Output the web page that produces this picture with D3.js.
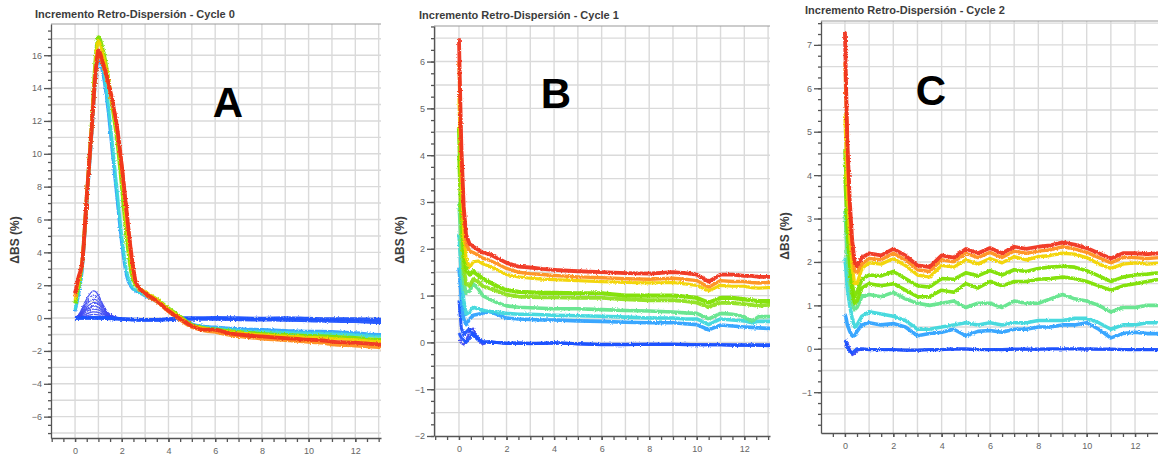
<!DOCTYPE html>
<html>
<head>
<meta charset="utf-8">
<script src="https://cdn.jsdelivr.net/npm/d3@7"></script>
<style>
  body { margin: 0; background: #fff; }
  svg { display: block; font-family: "Liberation Sans", Arial, sans-serif; }
  .grid line { stroke: #dadada; stroke-width: 1.4; }
  .axis path, .axis line { stroke: #555; stroke-width: 1.3; }
  .axis text { fill: #666; font-size: 9px; }
  .frame { stroke: #999; stroke-width: 1.2; }
  .title { font-weight: bold; font-size: 11px; fill: #3c3c3c; }
  .ylab { font-weight: bold; font-size: 12px; fill: #3c3c3c; }
  .letter { font-weight: bold; font-size: 42px; fill: #000; }
</style>
</head>
<body>
<svg id="chart" width="1158" height="458"></svg>
<script>
// ---------- Cycle 0 (A) ----------
const xsA = [0, 0.15, 0.3, 0.5, 0.7, 0.9, 1.0, 1.2, 1.4, 1.6, 1.8, 2.0, 2.2, 2.4, 2.6, 2.8, 3.0, 3.5, 4.0, 4.5,
  5.0, 5.5, 6.0, 6.5, 7.0, 8.0, 9.0, 10.0, 10.5, 11.0, 12.0, 13.0, 13.2];
const aLightBlue = [0.4, 1.4, 2.8, 6.8, 10.8, 14.8, 15.7, 14.8, 12.8, 10.0, 7.2, 4.5, 2.6, 1.9, 1.65, 1.5, 1.35, 1.0, 0.5, 0.05,
  -0.35, -0.5, -0.55, -0.6, -0.65, -0.7, -0.75, -0.8, -0.8, -0.82, -0.9, -1.0, -1.0];
const aCyan = [0.5, 1.6, 3.0, 7.0, 11.0, 15.1, 16.0, 15.2, 13.3, 10.6, 7.8, 5.0, 2.9, 2.0, 1.7, 1.55, 1.4, 1.05, 0.55, 0.1,
  -0.4, -0.55, -0.62, -0.68, -0.75, -0.82, -0.88, -0.92, -0.93, -0.95, -1.02, -1.1, -1.1];
const aGreen = [0.9, 2.0, 3.3, 7.4, 11.6, 16.2, 17.1, 16.3, 14.8, 12.8, 10.8, 8.0, 5.0, 2.8, 2.0, 1.75, 1.55, 1.15, 0.6, 0.1,
  -0.42, -0.6, -0.68, -0.78, -0.85, -0.95, -1.02, -1.08, -1.1, -1.12, -1.2, -1.3, -1.3];
const aYellow = [1.1, 2.2, 3.4, 7.5, 11.6, 16.0, 16.9, 16.0, 14.8, 13.0, 11.2, 8.8, 5.8, 3.3, 2.1, 1.8, 1.6, 1.15, 0.55, 0.05,
  -0.45, -0.62, -0.72, -0.82, -0.9, -1.02, -1.1, -1.18, -1.2, -1.25, -1.32, -1.42, -1.42];
const aOrange = [1.3, 2.4, 3.2, 7.3, 11.2, 15.2, 16.1, 15.4, 14.4, 13.1, 11.5, 9.2, 6.5, 3.9, 2.15, 1.7, 1.45, 1.0, 0.4, -0.1,
  -0.55, -0.75, -0.85, -1.0, -1.1, -1.25, -1.35, -1.45, -1.5, -1.6, -1.68, -1.78, -1.8];
const aRed = [1.5, 2.5, 3.3, 7.4, 11.3, 15.3, 16.3, 15.5, 14.5, 13.2, 11.6, 9.3, 6.6, 4.0, 2.2, 1.75, 1.5, 1.05, 0.45, -0.05,
  -0.48, -0.7, -0.7, -0.9, -1.0, -1.12, -1.22, -1.32, -1.35, -1.43, -1.5, -1.6, -1.62];

const xsABump = [0, 0.2, 0.4, 0.6, 0.8, 1.0, 1.2, 1.4, 1.7, 2.0];
const aBump1 = [0, 0.3, 0.9, 1.4, 1.65, 1.4, 0.8, 0.35, 0.08, 0];
const aBump2 = [0, 0.25, 0.75, 1.2, 1.4, 1.2, 0.7, 0.3, 0.06, 0];
const aBump3 = [0, 0.2, 0.6, 1.0, 1.15, 1.0, 0.6, 0.25, 0.05, 0];
const aBump4 = [0, 0.15, 0.5, 0.8, 0.95, 0.85, 0.5, 0.2, 0.04, 0];
const aBump5 = [0, 0.12, 0.4, 0.62, 0.75, 0.65, 0.4, 0.15, 0.03, 0];
const aBump6 = [0, 0.1, 0.3, 0.48, 0.55, 0.5, 0.3, 0.12, 0.02, 0];
const aBump7 = [0, 0.08, 0.2, 0.32, 0.38, 0.35, 0.22, 0.1, 0.02, 0];
const aBump8 = [0, 0.05, 0.12, 0.18, 0.22, 0.2, 0.12, 0.05, 0.01, 0];

const xsABase = [0, 0.5, 1, 1.5, 2, 2.5, 3, 3.5, 4, 4.5, 5, 6, 7, 8, 9, 10, 11, 12, 13, 13.2];
const aBase1 = [0, 0.02, 0.02, 0.0, -0.05, -0.08, -0.1, -0.1, -0.06, 0.0, 0.0, 0.02, 0.0, -0.02, 0.0, -0.03, -0.05, -0.05, -0.08, -0.08];
const aBase2 = [0, 0, 0, -0.02, -0.06, -0.1, -0.12, -0.12, -0.08, -0.05, -0.05, -0.06, -0.08, -0.1, -0.12, -0.15, -0.18, -0.2, -0.25, -0.25];

// ---------- Cycle 1 (B) ----------
const xsB = [0, 0.05, 0.1, 0.2, 0.3, 0.45, 0.6, 0.8, 1.0, 1.3, 1.6, 2.0, 2.5, 3.0, 3.5, 4.0, 5.0, 6.0, 7.0, 8.0,
  9.0, 9.5, 10.0, 10.5, 11.0, 11.5, 12.0, 12.3, 12.6, 13.0, 13.2];
const bRed = [6.5, 5.3, 4.2, 2.9, 2.3, 2.1, 2.05, 1.98, 1.92, 1.88, 1.8, 1.7, 1.62, 1.6, 1.57, 1.55, 1.52, 1.5, 1.48, 1.47,
  1.5, 1.48, 1.45, 1.3, 1.45, 1.45, 1.42, 1.42, 1.4, 1.4, 1.4];
const bOrange = [6.0, 4.9, 3.9, 2.7, 2.1, 1.95, 1.92, 1.86, 1.8, 1.75, 1.68, 1.58, 1.5, 1.47, 1.45, 1.43, 1.4, 1.38, 1.36, 1.35,
  1.37, 1.35, 1.32, 1.18, 1.32, 1.3, 1.3, 1.28, 1.27, 1.28, 1.28];
const bYellow = [5.2, 4.3, 3.4, 2.3, 1.8, 1.6, 1.72, 1.74, 1.68, 1.62, 1.55, 1.45, 1.4, 1.37, 1.35, 1.34, 1.32, 1.3, 1.28, 1.27,
  1.28, 1.25, 1.22, 1.1, 1.22, 1.2, 1.2, 1.17, 1.16, 1.17, 1.17];
const bGreen = [4.6, 3.8, 3.0, 2.0, 1.55, 1.45, 1.52, 1.44, 1.36, 1.28, 1.2, 1.12, 1.08, 1.07, 1.06, 1.06, 1.05, 1.05, 1.0, 1.0,
  1.0, 0.98, 0.95, 0.85, 0.95, 0.95, 0.92, 0.9, 0.88, 0.88, 0.88];
const bGreen2 = [4.0, 3.3, 2.5, 1.6, 1.25, 1.2, 1.35, 1.3, 1.2, 1.15, 1.1, 1.02, 0.98, 0.97, 0.96, 0.96, 0.95, 0.95, 0.92, 0.9,
  0.9, 0.88, 0.85, 0.75, 0.85, 0.84, 0.82, 0.8, 0.78, 0.8, 0.8];
const bLightGreen = [3.0, 2.5, 1.9, 1.3, 1.05, 1.1, 1.25, 1.15, 1.0, 0.92, 0.85, 0.78, 0.75, 0.74, 0.73, 0.72, 0.72, 0.7, 0.68, 0.67,
  0.65, 0.63, 0.62, 0.5, 0.62, 0.6, 0.55, 0.45, 0.55, 0.55, 0.55];
const bCyan = [2.3, 1.9, 1.4, 0.9, 0.6, 0.65, 0.75, 0.72, 0.68, 0.66, 0.65, 0.62, 0.6, 0.6, 0.59, 0.58, 0.57, 0.56, 0.54, 0.52,
  0.52, 0.5, 0.5, 0.38, 0.5, 0.48, 0.46, 0.42, 0.45, 0.45, 0.45];
const bLightBlue = [1.6, 1.3, 0.9, 0.5, 0.38, 0.5, 0.58, 0.6, 0.62, 0.66, 0.6, 0.52, 0.5, 0.49, 0.48, 0.48, 0.46, 0.45, 0.43, 0.42,
  0.42, 0.4, 0.38, 0.27, 0.37, 0.35, 0.33, 0.32, 0.31, 0.3, 0.3];
const bBlue1 = [0.9, 0.6, 0.3, 0.15, 0.22, 0.3, 0.15, 0.05, 0.02, 0.0, 0.0, -0.02, -0.01, -0.02, -0.02, -0.01, -0.03, -0.05, -0.05, -0.04,
  -0.04, -0.05, -0.05, -0.05, -0.05, -0.06, -0.06, -0.06, -0.06, -0.07, -0.07];
const bBlue2 = [0.2, 0.15, 0.1, 0.05, 0.0, 0.1, 0.2, 0.1, 0.0, 0.02, 0.0, -0.02, -0.02, -0.03, -0.02, -0.01, -0.03, -0.04, -0.04, -0.04,
  -0.04, -0.04, -0.05, -0.05, -0.05, -0.05, -0.05, -0.05, -0.05, -0.05, -0.05];
const bBlue3 = [0.0, 0.05, -0.02, -0.05, 0.05, 0.25, 0.3, 0.05, -0.05, 0.02, 0.0, -0.03, -0.02, -0.03, -0.03, -0.02, -0.04, -0.05, -0.05, -0.05,
  -0.05, -0.06, -0.06, -0.06, -0.06, -0.07, -0.07, -0.07, -0.07, -0.08, -0.08];

// ---------- Cycle 2 (C) ----------
const xsC = [0, 0.05, 0.1, 0.2, 0.3, 0.4, 0.5, 0.7, 1.0, 1.5, 2.0, 2.5, 3.0, 3.5, 4.0, 4.5, 5.0, 5.5, 6.0, 6.5,
  7.0, 7.5, 8.0, 8.5, 9.0, 9.5, 10.0, 10.5, 11.0, 11.5, 12.0, 12.5, 13.0];
const cRed = [7.3, 6.0, 4.8, 3.4, 2.5, 2.0, 1.9, 2.1, 2.2, 2.15, 2.3, 2.15, 1.92, 1.88, 2.15, 2.1, 2.3, 2.2, 2.32, 2.2,
  2.35, 2.3, 2.35, 2.38, 2.45, 2.4, 2.32, 2.2, 2.08, 2.2, 2.2, 2.18, 2.2];
const cOrange = [6.6, 5.6, 4.5, 3.1, 2.3, 1.8, 1.75, 1.95, 2.08, 2.05, 2.2, 2.05, 1.82, 1.78, 2.05, 2.0, 2.2, 2.1, 2.22, 2.1,
  2.25, 2.2, 2.25, 2.28, 2.35, 2.3, 2.22, 2.1, 1.98, 2.1, 2.1, 2.08, 2.1];
const cYellow = [5.4, 4.6, 3.7, 2.6, 1.9, 1.5, 1.5, 1.85, 1.98, 1.95, 2.08, 1.92, 1.7, 1.65, 1.92, 1.88, 2.05, 1.95, 2.08, 1.98,
  2.12, 2.05, 2.12, 2.15, 2.2, 2.18, 2.1, 1.95, 1.85, 1.95, 1.98, 1.95, 1.97];
const cGreen1 = [4.6, 3.9, 3.1, 2.2, 1.5, 1.2, 1.3, 1.6, 1.7, 1.68, 1.78, 1.62, 1.45, 1.42, 1.62, 1.6, 1.75, 1.68, 1.8, 1.7,
  1.82, 1.78, 1.85, 1.88, 1.9, 1.88, 1.8, 1.68, 1.55, 1.65, 1.7, 1.72, 1.75];
const cGreen2 = [4.0, 3.4, 2.7, 1.9, 1.3, 1.05, 1.1, 1.4, 1.5, 1.45, 1.5, 1.35, 1.2, 1.2, 1.35, 1.3, 1.5, 1.4, 1.55, 1.45,
  1.55, 1.55, 1.6, 1.62, 1.65, 1.62, 1.55, 1.45, 1.35, 1.45, 1.5, 1.55, 1.6];
const cGreen3 = [3.2, 2.7, 2.1, 1.5, 1.05, 0.9, 0.95, 1.2, 1.25, 1.2, 1.3, 1.15, 1.05, 1.0, 1.05, 1.1, 0.95, 1.05, 1.05, 0.95,
  1.1, 1.05, 1.05, 1.15, 1.25, 1.15, 1.1, 1.0, 0.85, 0.95, 0.95, 1.0, 1.0];
const cCyan = [2.1, 1.8, 1.4, 1.0, 0.7, 0.5, 0.55, 0.75, 0.85, 0.8, 0.75, 0.65, 0.45, 0.45, 0.5, 0.55, 0.6, 0.55, 0.6, 0.55,
  0.6, 0.6, 0.65, 0.65, 0.65, 0.7, 0.7, 0.6, 0.45, 0.55, 0.55, 0.6, 0.6];
const cLightBlue = [0.8, 0.7, 0.55, 0.4, 0.3, 0.3, 0.4, 0.55, 0.6, 0.55, 0.58, 0.5, 0.3, 0.35, 0.38, 0.45, 0.3, 0.4, 0.42, 0.38,
  0.45, 0.45, 0.5, 0.5, 0.55, 0.55, 0.6, 0.45, 0.25, 0.35, 0.38, 0.35, 0.35];
const cBlue1 = [0.2, 0.15, 0.05, -0.05, -0.1, -0.05, 0.0, 0.0, -0.02, -0.02, -0.02, -0.03, -0.03, -0.02, -0.02, 0.0, 0.0, -0.02, -0.02, -0.02,
  -0.01, -0.01, -0.01, 0.0, 0.0, 0.0, 0.0, -0.01, -0.01, -0.02, -0.02, -0.02, -0.02];
const cBlue2 = [0.05, 0.1, 0.15, 0.0, -0.15, -0.12, -0.05, -0.02, -0.03, -0.03, -0.03, -0.04, -0.04, -0.03, -0.03, -0.02, -0.02, -0.03, -0.03, -0.03,
  -0.02, -0.02, -0.02, -0.01, -0.01, -0.01, -0.02, -0.02, -0.02, -0.03, -0.03, -0.03, -0.03];

const titles = ['Incremento Retro-Dispersión - Cycle 0', 'Incremento Retro-Dispersión - Cycle 1', 'Incremento Retro-Dispersión - Cycle 2'];
const letters = ['A', 'B', 'C'];
const yLabel = 'ΔBS (%)';

const COL = {
  violet: '#3c46f2', blue: '#1d52ff', lightBlue: '#2ea2ff', cyan: '#3fd8dc', lightGreen: '#62e58c',
  green: '#7ee000', green2: '#8fe21a', yellow: '#f2d400', orange: '#ff9020', red: '#f0331e'
};

const svg = d3.select('#chart');

// noisy / blurry look of the instrument traces
const defs = svg.append('defs');
const jit = defs.append('filter').attr('id', 'jit')
  .attr('filterUnits', 'userSpaceOnUse').attr('x', 0).attr('y', 0).attr('width', 1158).attr('height', 458);
jit.append('feTurbulence').attr('type', 'fractalNoise').attr('baseFrequency', 0.7).attr('numOctaves', 2).attr('seed', 3).attr('result', 'n');
jit.append('feDisplacementMap').attr('in', 'SourceGraphic').attr('in2', 'n').attr('scale', 2.8)
  .attr('xChannelSelector', 'R').attr('yChannelSelector', 'G').attr('result', 'd');
jit.append('feGaussianBlur').attr('in', 'd').attr('stdDeviation', 0.5);

function drawPanel(p, i) {
  const x = d3.scaleLinear().domain(p.xDomain).range([p.left, p.right]);
  const y = d3.scaleLinear().domain(p.yDomain).range([p.bottom, p.top]);
  const g = svg.append('g').attr('class', 'panel');

  // grid
  const grid = g.append('g').attr('class', 'grid');
  const vx = d3.range(Math.ceil(p.xDomain[0]), p.xDomain[1], 1).filter((d) => x(d) > p.left + 1);
  const hy = d3.range(Math.ceil(p.yDomain[0] / p.gridStep) * p.gridStep, p.yDomain[1], p.gridStep)
    .filter((d) => y(d) < p.bottom - 1);
  grid.selectAll('line.v').data(vx).enter().append('line').attr('class', 'v')
    .attr('x1', (d) => x(d)).attr('x2', (d) => x(d)).attr('y1', p.top).attr('y2', p.bottom);
  grid.selectAll('line.h').data(hy).enter().append('line').attr('class', 'h')
    .attr('x1', p.left).attr('x2', p.right).attr('y1', (d) => y(d)).attr('y2', (d) => y(d));

  // top frame
  g.append('line').attr('class', 'frame')
    .attr('x1', p.left).attr('x2', p.right).attr('y1', p.top).attr('y2', p.top);

  // traces
  const clipId = 'clip' + i;
  defs.append('clipPath').attr('id', clipId).append('rect')
    .attr('x', p.left).attr('y', p.top).attr('width', p.right - p.left).attr('height', p.bottom - p.top);
  const traces = g.append('g').attr('clip-path', `url(#${clipId})`).append('g').attr('filter', 'url(#jit)');
  const line = d3.line().curve(p.curve);
  p.series.forEach((s) => {
    traces.append('path')
      .attr('d', line(s.xs.map((xv, k) => [x(xv), y(s.values[k])])))
      .attr('fill', 'none')
      .attr('stroke', s.color)
      .attr('stroke-width', s.width)
      .attr('stroke-opacity', s.opacity || 0.95)
      .attr('stroke-linejoin', 'round');
  });

  // y axis
  const yMinor = d3.range(Math.ceil(p.yDomain[0] / p.yMinor) * p.yMinor, p.yDomain[1], p.yMinor);
  const yMajor = d3.range(Math.ceil(p.yDomain[0] / p.yLabelStep) * p.yLabelStep, p.yDomain[1], p.yLabelStep);
  g.append('g').attr('class', 'axis')
    .attr('transform', `translate(${p.left},0)`)
    .call(d3.axisLeft(y).tickValues(yMinor).tickSize(3).tickSizeOuter(0).tickFormat(''));
  g.append('g').attr('class', 'axis')
    .attr('transform', `translate(${p.left},0)`)
    .call(d3.axisLeft(y).tickValues(yMajor).tickSize(7).tickSizeOuter(0).tickPadding(2).tickFormat(d3.format('d')))
    .call((a) => a.select('.domain').remove());

  // x axis
  const xMinor = d3.range(Math.ceil(p.xDomain[0] / 0.5) * 0.5, p.xDomain[1], 0.5);
  const xMajor = d3.range(0, p.xDomain[1], 2);
  g.append('g').attr('class', 'axis')
    .attr('transform', `translate(0,${p.bottom})`)
    .call(d3.axisBottom(x).tickValues(xMinor).tickSize(4).tickSizeOuter(0).tickFormat(''));
  g.append('g').attr('class', 'axis')
    .attr('transform', `translate(0,${p.bottom})`)
    .call(d3.axisBottom(x).tickValues(xMajor).tickSize(4).tickPadding(6).tickFormat(d3.format('d')))
    .call((a) => a.select('.domain').remove());

  // texts
  g.append('text').attr('class', 'title').attr('x', p.titleX).attr('y', p.titleY).text(titles[i]);
  g.append('text').attr('class', 'ylab').attr('text-anchor', 'middle')
    .attr('transform', `translate(${p.yLabX},${p.yLabY}) rotate(-90)`).text(yLabel);
  g.append('text').attr('class', 'letter').attr('text-anchor', 'middle')
    .attr('x', p.letterX).attr('y', p.letterY).text(letters[i]);
}

const bump = (v) => ({ xs: xsABump, values: v, color: COL.violet, width: 1.3, opacity: 0.9 });

const panels = [
  {
    left: 51, right: 381, top: 24, bottom: 438,
    xDomain: [-1.03, 13.1], yDomain: [-7.3, 17.9], curve: d3.curveMonotoneX,
    gridStep: 1, yMinor: 0.5, yLabelStep: 2,
    titleX: 35, titleY: 18, yLabX: 19, yLabY: 240, letterX: 228, letterY: 117,
    series: [
      bump(aBump8), bump(aBump7), bump(aBump6), bump(aBump5), bump(aBump4), bump(aBump3), bump(aBump2), bump(aBump1),
      { xs: xsABase, values: aBase2, color: COL.blue, width: 3.5 },
      { xs: xsABase, values: aBase1, color: COL.blue, width: 3.5 },
      { xs: xsA, values: aLightBlue, color: COL.lightBlue, width: 3 },
      { xs: xsA, values: aCyan, color: COL.cyan, width: 3 },
      { xs: xsA, values: aGreen, color: COL.green, width: 3.6 },
      { xs: xsA, values: aYellow, color: COL.yellow, width: 3 },
      { xs: xsA, values: aOrange, color: COL.orange, width: 3.6 },
      { xs: xsA, values: aRed, color: COL.red, width: 3.8 }
    ]
  },
  {
    left: 434, right: 770, top: 26, bottom: 436,
    xDomain: [-1.05, 13.08], yDomain: [-2, 6.76], curve: d3.curveLinear,
    gridStep: 0.5, yMinor: 0.25, yLabelStep: 1,
    titleX: 419, titleY: 19, yLabX: 404, yLabY: 240, letterX: 556, letterY: 108,
    series: [
      { xs: xsB, values: bBlue3, color: COL.violet, width: 1.8 },
      { xs: xsB, values: bBlue2, color: COL.blue, width: 3 },
      { xs: xsB, values: bBlue1, color: COL.blue, width: 3 },
      { xs: xsB, values: bLightBlue, color: COL.lightBlue, width: 3.6 },
      { xs: xsB, values: bCyan, color: COL.cyan, width: 3.6 },
      { xs: xsB, values: bLightGreen, color: COL.lightGreen, width: 3.6 },
      { xs: xsB, values: bGreen2, color: COL.green2, width: 3.8 },
      { xs: xsB, values: bGreen, color: COL.green, width: 4.2 },
      { xs: xsB, values: bYellow, color: COL.yellow, width: 3.2 },
      { xs: xsB, values: bOrange, color: COL.orange, width: 3.4 },
      { xs: xsB, values: bRed, color: COL.red, width: 3.8 }
    ]
  },
  {
    left: 821, right: 1158, top: 21, bottom: 433,
    xDomain: [-0.99, 12.95], yDomain: [-1.94, 7.55], curve: d3.curveLinear,
    gridStep: 0.5, yMinor: 0.25, yLabelStep: 1,
    titleX: 805, titleY: 14, yLabX: 789, yLabY: 236, letterX: 931, letterY: 105,
    series: [
      { xs: xsC, values: cBlue2, color: COL.violet, width: 1.8 },
      { xs: xsC, values: cBlue1, color: COL.blue, width: 3.2 },
      { xs: xsC, values: cLightBlue, color: COL.lightBlue, width: 3.6 },
      { xs: xsC, values: cCyan, color: COL.cyan, width: 3.6 },
      { xs: xsC, values: cGreen3, color: COL.lightGreen, width: 3.6 },
      { xs: xsC, values: cGreen2, color: COL.green, width: 3.6 },
      { xs: xsC, values: cGreen1, color: COL.green, width: 3.6 },
      { xs: xsC, values: cYellow, color: COL.yellow, width: 3.4 },
      { xs: xsC, values: cOrange, color: COL.orange, width: 3.4 },
      { xs: xsC, values: cRed, color: COL.red, width: 3.8 }
    ]
  }
];

panels.forEach(drawPanel);
</script>
</body>
</html>
